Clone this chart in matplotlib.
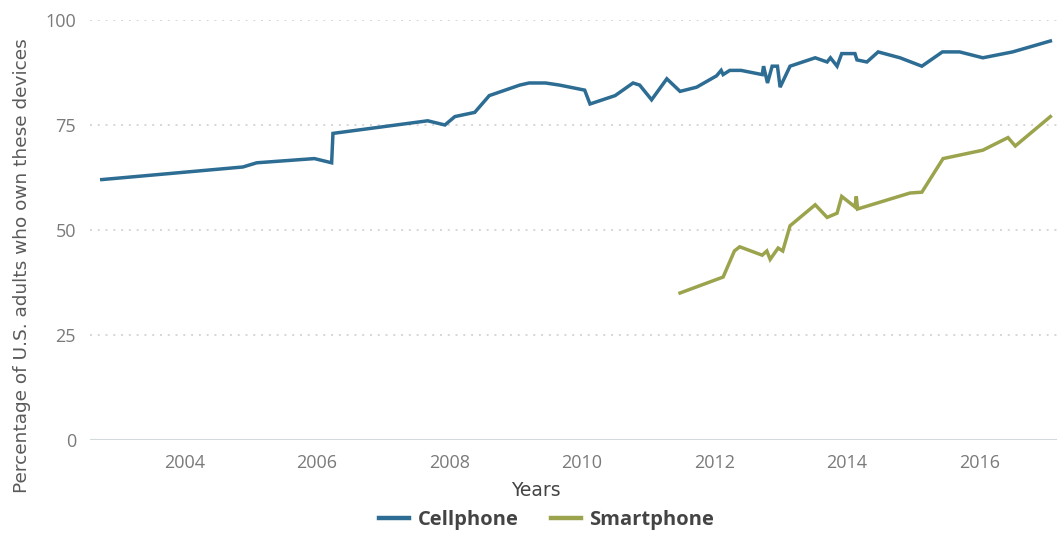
import matplotlib
matplotlib.use("Agg")
import matplotlib.pyplot as plt
from matplotlib.lines import Line2D

# values (decimal years, percent)
cell_years = [2002.75, 2004.88, 2005.09, 2005.96, 2006.22, 2006.24, 2007.67, 2007.93,
              2008.08, 2008.38, 2008.6, 2009.06, 2009.2, 2009.45, 2009.66, 2010.04,
              2010.12, 2010.5, 2010.77, 2010.87, 2011.05, 2011.28, 2011.48, 2011.73,
              2012.03, 2012.1, 2012.13, 2012.23, 2012.4, 2012.72, 2012.74, 2012.8,
              2012.87, 2012.95, 2012.99, 2013.14, 2013.52, 2013.7, 2013.75, 2013.85,
              2013.92, 2014.12, 2014.15, 2014.3, 2014.47, 2014.8, 2015.13, 2015.44,
              2015.7, 2016.05, 2016.5, 2017.07]
cellphone = [62, 65, 66, 67, 66, 73, 76, 75,
             77, 78, 82, 84.5, 85, 85, 84.5, 83.3,
             80, 82, 85, 84.5, 81, 86, 83, 84,
             86.7, 88, 87, 88, 88, 87, 89, 85,
             89, 89, 84, 89, 91, 90, 91, 89,
             92, 92, 90.5, 90, 92.4, 91, 89, 92.4,
             92.4, 91, 92.4, 95]

smart_years = [2011.48, 2012.13, 2012.3, 2012.38, 2012.72, 2012.79, 2012.84, 2012.96,
               2013.03, 2013.14, 2013.52, 2013.7, 2013.85, 2013.92, 2014.12, 2014.14,
               2014.16, 2014.95, 2015.13, 2015.45, 2016.05, 2016.43, 2016.54, 2017.07]
smartphone = [35, 38.8, 45, 46, 44, 45, 43, 45.7,
              45, 51, 56, 53, 54, 58, 55.5, 58,
              55, 58.8, 59, 67, 69, 72, 70, 77]

year_ticks = [2004, 2006, 2008, 2010, 2012, 2014, 2016]
pct_ticks = [0, 25, 50, 75, 100]

cell_color = "#2d6c93"
smart_color = "#9ba44d"

fig = plt.figure(figsize=(10.57, 5.33), dpi=100)
ax = fig.add_axes([0.085, 0.1745, 0.915, 0.788])

for v in pct_ticks[1:]:
    ax.axhline(v, color="#d6d6d6", lw=1.4, ls=(0, (1, 3)), zorder=0)
ax.axhline(0, color="#d3dade", lw=1.5, zorder=0)

ax.plot(cell_years, cellphone, color=cell_color, lw=2.5, solid_joinstyle="miter", clip_on=False)
ax.plot(smart_years, smartphone, color=smart_color, lw=2.5, solid_joinstyle="miter", clip_on=False)

ax.set_xlim(2002.57, 2017.17)
ax.set_ylim(0, 100)
ax.set_xticks(year_ticks)
ax.set_yticks(pct_ticks)
ax.tick_params(length=0, labelsize=13, labelcolor="#7a7a7a", pad=10)
for lab in ax.get_xticklabels() + ax.get_yticklabels():
    lab.set_family("Open Sans")
for s in ax.spines.values():
    s.set_visible(False)

fig.text(0.021, 0.502, "Percentage of U.S. adults who own these devices", rotation=90,
         ha="center", va="center", fontsize=13.3, color="#5a5a5a", family="DejaVu Sans")
fig.text(0.507, 0.079, "Years", ha="center", va="center", fontsize=13.5,
         color="#444444", family=["Liberation Sans Narrow", "DejaVu Sans"])

handles = [Line2D([], [], color=cell_color, lw=3.2),
           Line2D([], [], color=smart_color, lw=3.2)]
fig.legend(handles, ["Cellphone", "Smartphone"], loc="center", bbox_to_anchor=(0.517, 0.025),
           ncol=2, frameon=False, handlelength=1.5, handletextpad=0.4, columnspacing=1.6,
           prop={"family": "Open Sans", "weight": "bold", "size": 14.5})
for t in fig.legends[0].get_texts():
    t.set_color("#444444")

fig.savefig("out.png", dpi=100)
